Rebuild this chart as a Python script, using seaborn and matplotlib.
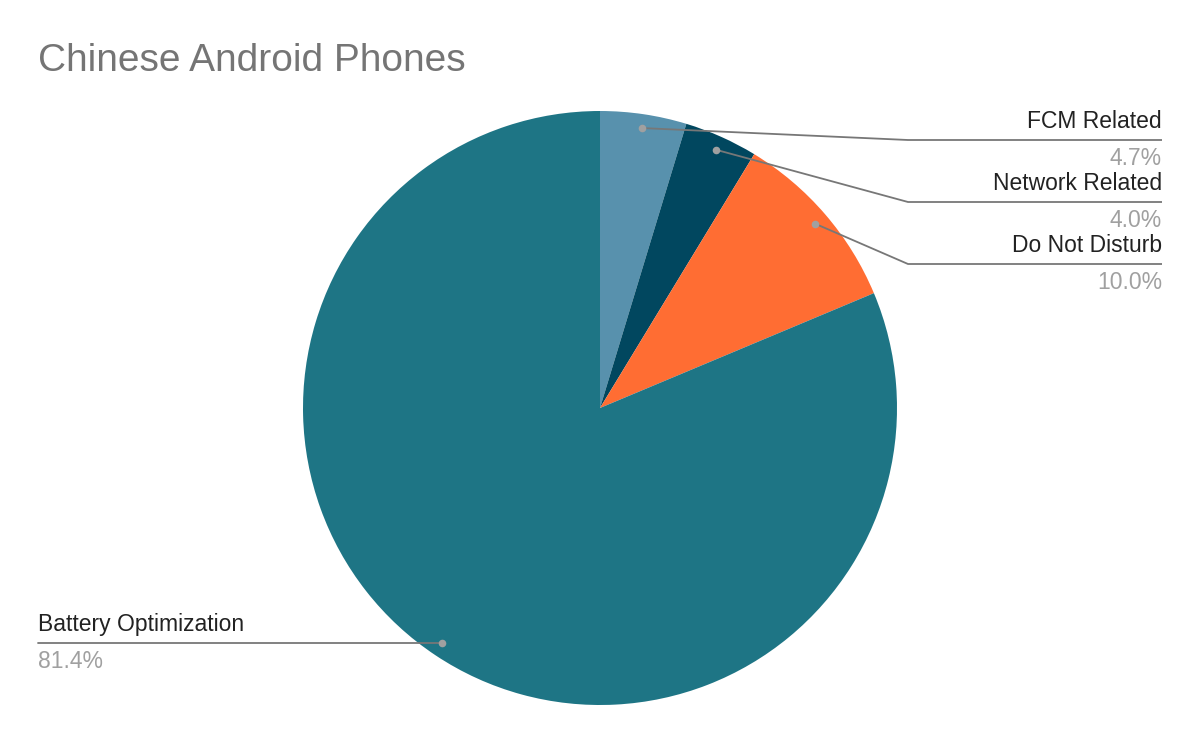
import numpy as np
import seaborn as sns
import matplotlib.pyplot as plt

# ---------------- data ----------------
labels = ["FCM Related", "Network Related", "Do Not Disturb", "Battery Optimization"]
shares = [4.7, 4.0, 10.0, 81.4]
colors = ["#5891ad", "#01475f", "#ff6d33", "#1e7585"]

sns.set_theme(style="white")
plt.rcParams["font.family"] = ["Liberation Sans", "DejaVu Sans"]

W, H = 1200, 742
fig = plt.figure(figsize=(W / 100, H / 100), dpi=100)
ax = fig.add_axes([0, 0, 1, 1])

cx, cy, R = 600, H - 408, 297
ax.pie(shares, colors=colors, startangle=90, counterclock=False,
       center=(cx, cy), radius=R, wedgeprops=dict(linewidth=0),
       frame=True)
ax.set_xlim(0, W)
ax.set_ylim(0, H)
ax.set_aspect("equal")
ax.axis("off")

fig.text(38 / W, 1 - 61 / H, "Chinese Android Phones", fontsize=28,
         color="#757575", va="center", ha="left")

line_c = "#777777"
dot_c = "#a0a0a0"
pct_c = "#a0a0a0"
fs = 16.5

# dot positions at mid-angle of each slice
cum = np.cumsum([0] + shares[:-1])
mids = [(c + s / 2) / 100 * 360 for c, s in zip(cum, shares)]
dots = []
for m in mids:
    a = np.deg2rad(90 - m)
    dots.append((cx + 0.953 * R * np.cos(a), cy + 0.953 * R * np.sin(a)))

# right side labels
for i in range(3):
    dx, dy = dots[i]
    ly = H - (140 + 62 * i)
    ax.plot([dx, 908, 1162], [dy, ly, ly], color=line_c, lw=1.3,
            solid_capstyle="butt", zorder=3)
    ax.scatter([dx], [dy], s=30, color=dot_c, zorder=4, linewidths=0)
    ax.text(1162, ly + 7, labels[i], ha="right", va="bottom",
            fontsize=fs, color="#222222")
    ax.text(1162, ly - 7, f"{shares[i]:.1f}%", ha="right", va="top",
            fontsize=fs, color=pct_c)

# left label (battery)
dx, dy = dots[3]
ax.plot([dx, 38], [dy, dy], color=line_c, lw=1.3, zorder=3)
ax.scatter([dx], [dy], s=30, color=dot_c, zorder=4, linewidths=0)
ax.text(38, dy + 7, labels[3], ha="left", va="bottom", fontsize=fs,
        color="#222222")
ax.text(38, dy - 7, f"{shares[3]:.1f}%", ha="left", va="top",
        fontsize=fs, color=pct_c)

fig.savefig("out.png", dpi=100, facecolor="white")
